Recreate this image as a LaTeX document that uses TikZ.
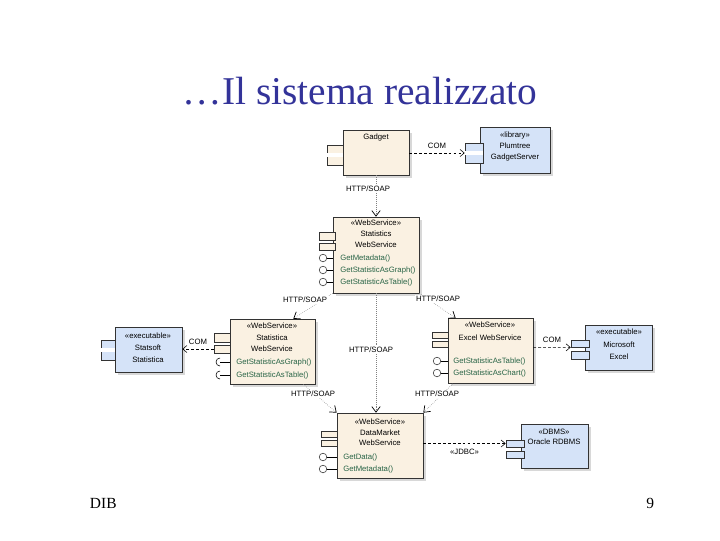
\documentclass[tikz,border=0pt]{standalone}
\usepackage{fontspec}
\setmainfont{Liberation Serif}
\setsansfont{Liberation Sans}
\usetikzlibrary{arrows.meta,shadows}
\definecolor{wsfill}{RGB}{250,241,226}
\definecolor{exefill}{RGB}{213,227,248}
\definecolor{optext}{RGB}{40,100,70}
\definecolor{titleblue}{RGB}{51,51,153}

\begin{document}
\begin{tikzpicture}[x=0.025cm, y=-0.025cm]
\tikzstyle{comp} = [rectangle, draw=black!80, thin, fill=wsfill, inner sep=0pt, drop shadow={shadow xshift=2pt, shadow yshift=-2pt, fill=black!30}]
\tikzstyle{exe} = [comp, fill=exefill]
\tikzstyle{port} = [rectangle, draw=black!80, thin, inner sep=0pt, minimum width=0.4cm]
\tikzstyle{ball} = [circle, draw=black!80, thin, fill=white, minimum size=0.19cm, inner sep=0pt]
\tikzstyle{txt} = [font=\sffamily\fontsize{5.5}{6}\selectfont, inner sep=0pt]
\tikzstyle{op} = [txt, anchor=west, text=optext]
\tikzstyle{lbl} = [txt, fill=white, inner sep=1pt]
\tikzstyle{dep} = [densely dotted, thin, draw=black!50, -{Straight Barb[length=4pt,width=6pt,color=black,line width=0.5pt]}]
\tikzstyle{use} = [dash pattern=on 2pt off 1.5pt, thin, -{Straight Barb[length=3pt,width=5pt]}]

\useasboundingbox (0,0) rectangle (720,540);

\node (title) [anchor=base, font=\fontsize{28}{30}\selectfont, text=titleblue] at (360,104) {\ldots Il sistema realizzato};
\node (dib) [anchor=base west, font=\fontsize{11}{12}\selectfont] at (85,508) {DIB};
\node (page) [anchor=base east, font=\fontsize{11}{12}\selectfont] at (659,508) {9};

\node (gadget) [comp, minimum width=1.65cm, minimum height=1.125cm] at (376,152.5) {};
\node (gp) [port, fill=wsfill, minimum height=0.5cm] at (335,155) {};
\draw[white, line width=0.09cm] (gp.west) -- (gp.east);
\node (gname) [txt] at (376,137) {Gadget};

\node (lib) [exe, minimum width=1.75cm, minimum height=1.15cm] at (515,150) {};
\node (lp) [port, fill=exefill, minimum width=0.45cm, minimum height=0.5cm] at (474,153) {};
\draw[white, line width=0.09cm] (lp.west) -- (lp.east);
\node (l1) [txt] at (515,135) {«library»};
\node (l2) [txt] at (515,146) {Plumtree};
\node (l3) [txt] at (515,157) {GadgetServer};

\node (statws) [comp, minimum width=2.15cm, minimum height=1.9cm] at (376,255) {};
\node (sp1) [port, fill=wsfill, minimum height=0.2cm] at (327,236) {};
\node (sp2) [port, fill=wsfill, minimum height=0.18cm] at (327,246.5) {};
\node (s1) [txt] at (376,223) {«WebService»};
\node (s2) [txt] at (376,234) {Statistics};
\node (s3) [txt] at (376,245) {WebService};
\node (so1) [op] at (340,258) {GetMetadata()};
\node (so2) [op] at (340,270) {GetStatisticAsGraph()};
\node (so3) [op] at (340,282) {GetStatisticAsTable()};
\foreach \y [count=\i] in {258,270,282} {
  \node (sb\i) [ball] at (323,\y) {};
  \draw[thin] (sb\i) -- (statws.west |- sb\i);
}

\node (leftws) [comp, minimum width=2.125cm, minimum height=1.625cm] at (272.5,351.5) {};
\node (lwp1) [port, fill=wsfill, minimum height=0.22cm] at (222,337.5) {};
\node (lwp2) [port, fill=wsfill, minimum height=0.2cm] at (222,349) {};
\node (w1) [txt] at (272,326) {«WebService»};
\node (w2) [txt] at (272,338) {Statistica};
\node (w3) [txt] at (272,349) {WebService};
\node (wo1) [op] at (236,362) {GetStatisticAsGraph()};
\node (wo2) [op] at (236,375) {GetStatisticAsTable()};
\foreach \y [count=\i] in {362,375} {
  \coordinate (ws\i) at (220,\y);
  \draw[thin] (ws\i) ++(0,4) arc[start angle=90, end angle=270, radius=4];
  \draw[thin] (ws\i) -- (leftws.west |- ws\i);
}

\node (exe1) [exe, minimum width=1.675cm, minimum height=1.125cm] at (148.5,349.5) {};
\node (xp1) [port, fill=exefill, minimum width=0.35cm, minimum height=0.5cm] at (108,350) {};
\draw[white, line width=0.09cm] (xp1.west) -- (xp1.east);
\node (x1) [txt] at (148,336) {«executable»};
\node (x2) [txt] at (148,348) {Statsoft};
\node (x3) [txt] at (148,360) {Statistica};

\node (excelws) [comp, minimum width=2.125cm, minimum height=1.625cm] at (490.5,351) {};
\node (ep1) [port, fill=wsfill, minimum height=0.15cm] at (440,335) {};
\node (ep2) [port, fill=wsfill, minimum height=0.15cm] at (440,344) {};
\node (e1) [txt] at (490,325) {«WebService»};
\node (e2) [txt] at (490,338) {Excel WebService};
\node (eo1) [op] at (453,361) {GetStatisticAsTable()};
\node (eo2) [op] at (453,373) {GetStatisticAsChart()};
\foreach \y [count=\i] in {361,373} {
  \node (eb\i) [ball] at (437,\y) {};
  \draw[thin] (eb\i) -- (excelws.west |- eb\i);
}

\node (exe2) [exe, minimum width=1.675cm, minimum height=1.125cm] at (618.5,347.5) {};
\node (mp1) [port, fill=exefill, minimum width=0.45cm, minimum height=0.18cm] at (580,343.5) {};
\node (mp2) [port, fill=exefill, minimum width=0.45cm, minimum height=0.2cm] at (580,355) {};
\node (m1) [txt] at (619,332) {«executable»};
\node (m2) [txt] at (619,345) {Microsoft};
\node (m3) [txt] at (619,357) {Excel};

\node (dmws) [comp, minimum width=2.15cm, minimum height=1.625cm] at (380,445.5) {};
\node (dp1) [port, fill=wsfill, minimum height=0.15cm] at (329,434) {};
\node (dp2) [port, fill=wsfill, minimum height=0.15cm] at (329,443) {};
\node (d1) [txt] at (380,422) {«WebService»};
\node (d2) [txt] at (380,433) {DataMarket};
\node (d3) [txt] at (380,443) {WebService};
\node (do1) [op] at (343,457) {GetData()};
\node (do2) [op] at (343,469) {GetMetadata()};
\foreach \y [count=\i] in {457,469} {
  \node (db\i) [ball] at (323,\y) {};
  \draw[thin] (db\i) -- (dmws.west |- db\i);
}

\node (db) [exe, minimum width=1.675cm, minimum height=1.1cm] at (554.5,446) {};
\node (bp1) [port, fill=exefill, minimum width=0.45cm, minimum height=0.18cm] at (515,443.5) {};
\node (bp2) [port, fill=exefill, minimum width=0.45cm, minimum height=0.18cm] at (515,454.5) {};
\node (b1) [txt] at (554,432) {«DBMS»};
\node (b2) [txt] at (554,442) {Oracle RDBMS};

\draw[use] (gadget.east |- lp) -- node[txt, above=3pt]{COM} (lp.west);
\draw[use] (lwp2.west) -- node[txt, above=3pt]{COM} (exe1.east |- lwp2);
\draw[use] (excelws.east |- ep2.south) -- node[txt, above=3pt]{COM} (mp1.south west);
\draw[use] (dmws.east |- bp1) -- node[txt, below=4pt]{«JDBC»} (bp1.west);

\path (leftws.north east) ++(-22,0) coordinate (t1);
\path (excelws.north west) ++(8,0) coordinate (t2);
\path (leftws.south east) ++(-12,0) coordinate (f3);
\path (excelws.south west) ++(5,0) coordinate (f4);
\draw[dep] (gadget.south) -- (gadget.south |- statws.north);
\draw[dep] (statws.south west) -- (t1);
\draw[dep] (statws.south east) -- (t2);
\draw[dep] (statws.south) -- (statws.south |- dmws.north);
\draw[dep] (f3) -- (dmws.north west);
\draw[dep] (f4) -- (dmws.north east);
\node (h0) [lbl] at (368,189) {HTTP/SOAP};
\node (h1) [lbl] at (305,300) {HTTP/SOAP};
\node (h2) [lbl] at (438,299) {HTTP/SOAP};
\node (h3) [lbl] at (371,350) {HTTP/SOAP};
\node (h4) [lbl] at (313,394) {HTTP/SOAP};
\node (h5) [lbl] at (437,394) {HTTP/SOAP};
\end{tikzpicture}
\end{document}
